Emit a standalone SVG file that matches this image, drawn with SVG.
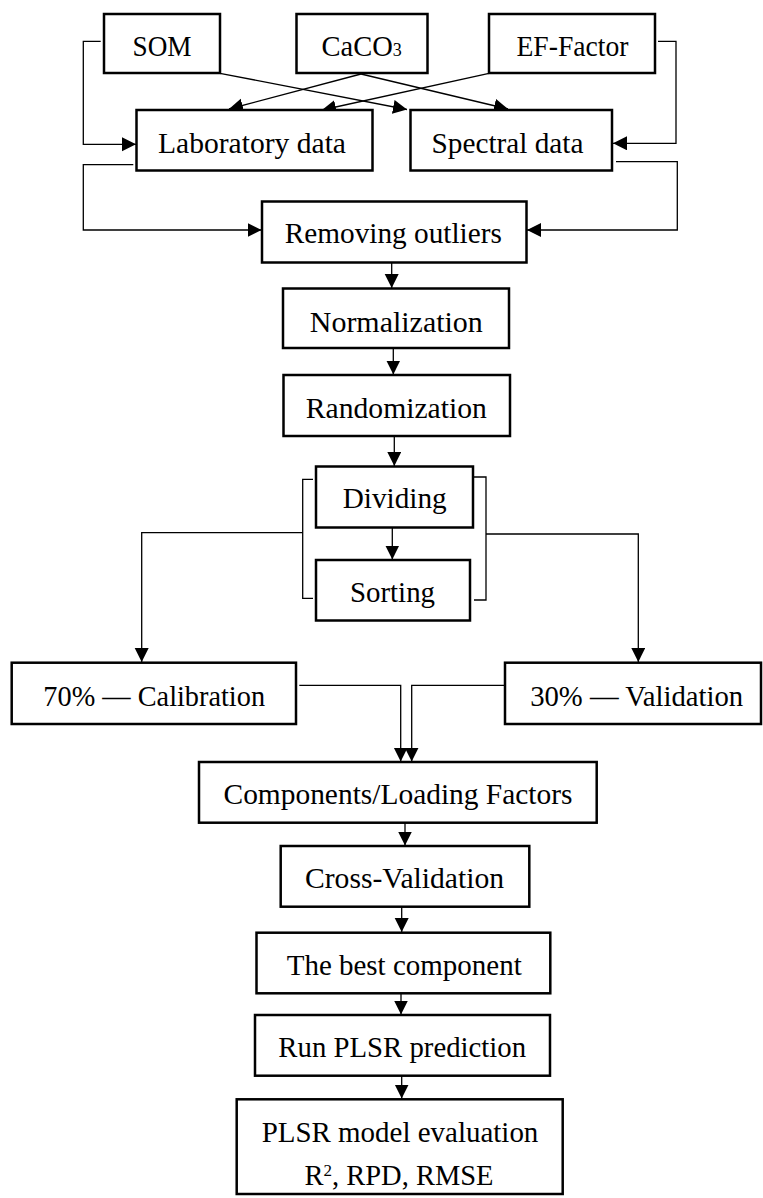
<svg xmlns="http://www.w3.org/2000/svg" width="763" height="1198" viewBox="0 0 763 1198">
<style>
.box{fill:#fff;stroke:#000;stroke-width:2.5}
.t{font-family:"Liberation Serif","Times New Roman",serif;font-size:28.5px;fill:#000;text-anchor:middle}
.c{fill:none;stroke:#000;stroke-width:1.3}
.a{marker-end:url(#ah)}
</style>
<defs>
<marker id="ah" markerUnits="userSpaceOnUse" markerWidth="16" markerHeight="16" refX="14" refY="7" orient="auto">
<path d="M0,0 L14,7 L0,14 z" fill="#000"/>
</marker>
</defs>
<rect width="763" height="1198" fill="#fff"/>
<g id="connectors">
<path class="c a" d="M100.7,41.3 H83.3 V144.3 H136"/>
<path class="c a" d="M658,41.3 H676 V143.3 H613"/>
<path class="c a" d="M220,73.3 L407,109.5"/>
<path class="c a" d="M361,74 L229,109"/>
<path class="c a" d="M361,74 L508,109"/>
<path class="c a" d="M489,73.3 L322,110"/>
<path class="c a" d="M133.3,164.7 H83.3 V230 H261.5"/>
<path class="c a" d="M616,161.7 H677.3 V230 H527"/>
<path class="c a" d="M391.7,262.5 V288"/>
<path class="c a" d="M393.3,348 V374.5"/>
<path class="c a" d="M394.3,436 V466"/>
<path class="c a" d="M392.3,527.5 V559.5"/>
<path class="c" d="M313,479.3 H302.7 V598.3 H313"/>
<path class="c" d="M474,477 H486 V600 H474"/>
<path class="c a" d="M302.7,532.7 H141.7 V662"/>
<path class="c a" d="M486,534 H638.3 V662"/>
<path class="c a" d="M299.3,685.3 H400.7 V761.5"/>
<path class="c a" d="M504,685.3 H411.7 V761.5"/>
<path class="c a" d="M405,822.7 V845.5"/>
<path class="c a" d="M401.7,906.7 V932"/>
<path class="c a" d="M401,993.3 V1014.5"/>
<path class="c a" d="M401.7,1075.7 V1098.5"/>
</g>
<g id="som"><rect class="box" x="104" y="14" width="116" height="59"/><text class="t" x="162" y="56" textLength="59" lengthAdjust="spacingAndGlyphs">SOM</text></g>
<g id="caco3"><rect class="box" x="296.5" y="14" width="131" height="59"/><text class="t" x="361.7" y="56">CaCO<tspan font-size="18">3</tspan></text></g>
<g id="ef"><rect class="box" x="489" y="14" width="166" height="59"/><text class="t" x="572.5" y="56" textLength="112" lengthAdjust="spacingAndGlyphs">EF-Factor</text></g>
<g id="lab"><rect class="box" x="136.5" y="110" width="236" height="60.5"/><text class="t" x="252" y="153.3" textLength="188" lengthAdjust="spacingAndGlyphs">Laboratory data</text></g>
<g id="spectral"><rect class="box" x="410.5" y="110" width="201.5" height="60.5"/><text class="t" x="507.5" y="153.3" textLength="152" lengthAdjust="spacingAndGlyphs">Spectral data</text></g>
<g id="removing"><rect class="box" x="262" y="201.5" width="264.5" height="61"/><text class="t" x="393.3" y="243.3" textLength="217" lengthAdjust="spacingAndGlyphs">Removing outliers</text></g>
<g id="normalization"><rect class="box" x="283" y="288.5" width="226" height="59.5"/><text class="t" x="396.3" y="331.7" textLength="173" lengthAdjust="spacingAndGlyphs">Normalization</text></g>
<g id="randomization"><rect class="box" x="283.5" y="375" width="226.5" height="61"/><text class="t" x="396.3" y="418.3" textLength="181" lengthAdjust="spacingAndGlyphs">Randomization</text></g>
<g id="dividing"><rect class="box" x="316" y="466.5" width="157" height="61"/><text class="t" x="394.7" y="508.3" textLength="104" lengthAdjust="spacingAndGlyphs">Dividing</text></g>
<g id="sorting"><rect class="box" x="316" y="560" width="154" height="60.5"/><text class="t" x="392.5" y="602.3" textLength="85" lengthAdjust="spacingAndGlyphs">Sorting</text></g>
<g id="calibration"><rect class="box" x="11.7" y="662.7" width="284.3" height="61.3"/><text class="t" x="154.2" y="706" textLength="221.7" lengthAdjust="spacingAndGlyphs">70% — Calibration</text></g>
<g id="validation"><rect class="box" x="505" y="662.7" width="256" height="61.3"/><text class="t" x="636.7" y="706" textLength="213" lengthAdjust="spacingAndGlyphs">30% — Validation</text></g>
<g id="components"><rect class="box" x="199" y="762" width="397.7" height="60.7"/><text class="t" x="398" y="804.3" textLength="349" lengthAdjust="spacingAndGlyphs">Components/Loading Factors</text></g>
<g id="crossval"><rect class="box" x="280.7" y="846" width="248.6" height="60.7"/><text class="t" x="404.5" y="888.3" textLength="199" lengthAdjust="spacingAndGlyphs">Cross-Validation</text></g>
<g id="best"><rect class="box" x="256.5" y="932.7" width="293.8" height="60.6"/><text class="t" x="404.2" y="975" textLength="235" lengthAdjust="spacingAndGlyphs">The best component</text></g>
<g id="run"><rect class="box" x="255" y="1015" width="295" height="60.7"/><text class="t" x="402.2" y="1057.3" textLength="247.7" lengthAdjust="spacingAndGlyphs">Run PLSR prediction</text></g>
<g id="eval"><rect class="box" x="236.7" y="1099.3" width="326" height="94.7"/><text class="t" x="400" y="1141.7" textLength="276.7" lengthAdjust="spacingAndGlyphs">PLSR model evaluation</text><text class="t" x="399" y="1185" font-size="27.5">R<tspan font-size="17" dy="-9">2</tspan><tspan dy="9">, RPD, RMSE</tspan></text></g>
</svg>
